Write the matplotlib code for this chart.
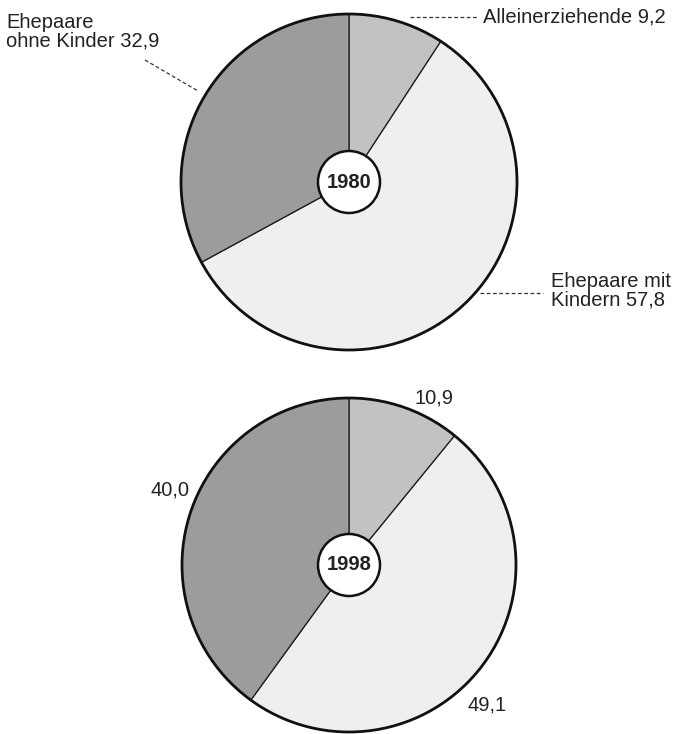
import matplotlib.pyplot as plt
from matplotlib.patches import Circle

# Haushaltstypen, Anteile in %
types = ['Alleinerziehende', 'Ehepaare mit Kindern', 'Ehepaare ohne Kinder']
shares_1980 = [9.2, 57.8, 32.9]
shares_1998 = [10.9, 49.1, 40.0]
years = ['1980', '1998']

colors = ['#c2c2c2', '#efefef', '#9c9c9c']

W, H = 680, 734
fig = plt.figure(figsize=(W / 100, H / 100), dpi=100)
ax = fig.add_axes([0, 0, 1, 1])
plt.rcParams['font.family'] = ['Liberation Sans', 'DejaVu Sans']


def draw_pie(vals, cx, cy, r, year):
    y = H - cy
    ax.pie(vals, center=(cx, y), radius=r, startangle=90, counterclock=False,
           colors=colors, wedgeprops=dict(edgecolor='#1a1a1a', linewidth=0.9))
    ax.add_patch(Circle((cx, y), r, fill=False, edgecolor='#111111', lw=2.0, zorder=5))
    ax.add_patch(Circle((cx, y), 31, facecolor='white', edgecolor='#111111', lw=1.8, zorder=6))
    ax.text(cx, y, year, ha='center', va='center', fontsize=14.5, fontweight='bold',
            color='#222222', zorder=7)


def fmt(v):
    return f'{v:.1f}'.replace('.', ',')


draw_pie(shares_1980, 349, 182, 168, years[0])
draw_pie(shares_1998, 349, 565, 167, years[1])

txt = dict(fontsize=14.5, color='#222222')
dash = dict(color='#333333', lw=0.9, ls=(0, (3, 2)))

# Beschriftungen 1980
ax.plot([410, 478], [H - 17, H - 17], **dash)
ax.text(483, H - 17, f'{types[0]} {fmt(shares_1980[0])}', ha='left', va='center', **txt)
ax.plot([145, 198], [H - 60, H - 91], **dash)
ax.text(6, H - 32, f'Ehepaare\nohne Kinder {fmt(shares_1980[2])}', ha='left', va='center',
        linespacing=0.95, **txt)
ax.plot([480, 543], [H - 293, H - 293], **dash)
ax.text(551, H - 291, f'Ehepaare mit\nKindern {fmt(shares_1980[1])}', ha='left', va='center',
        linespacing=0.95, **txt)

# Beschriftungen 1998
ax.text(434, H - 398, fmt(shares_1998[0]), ha='center', va='center', **txt)
ax.text(170, H - 490, fmt(shares_1998[2]), ha='center', va='center', **txt)
ax.text(487, H - 705, fmt(shares_1998[1]), ha='center', va='center', **txt)

ax.set_xlim(0, W)
ax.set_ylim(0, H)
ax.set_aspect('equal')
ax.axis('off')
fig.savefig('out.png', dpi=100)
